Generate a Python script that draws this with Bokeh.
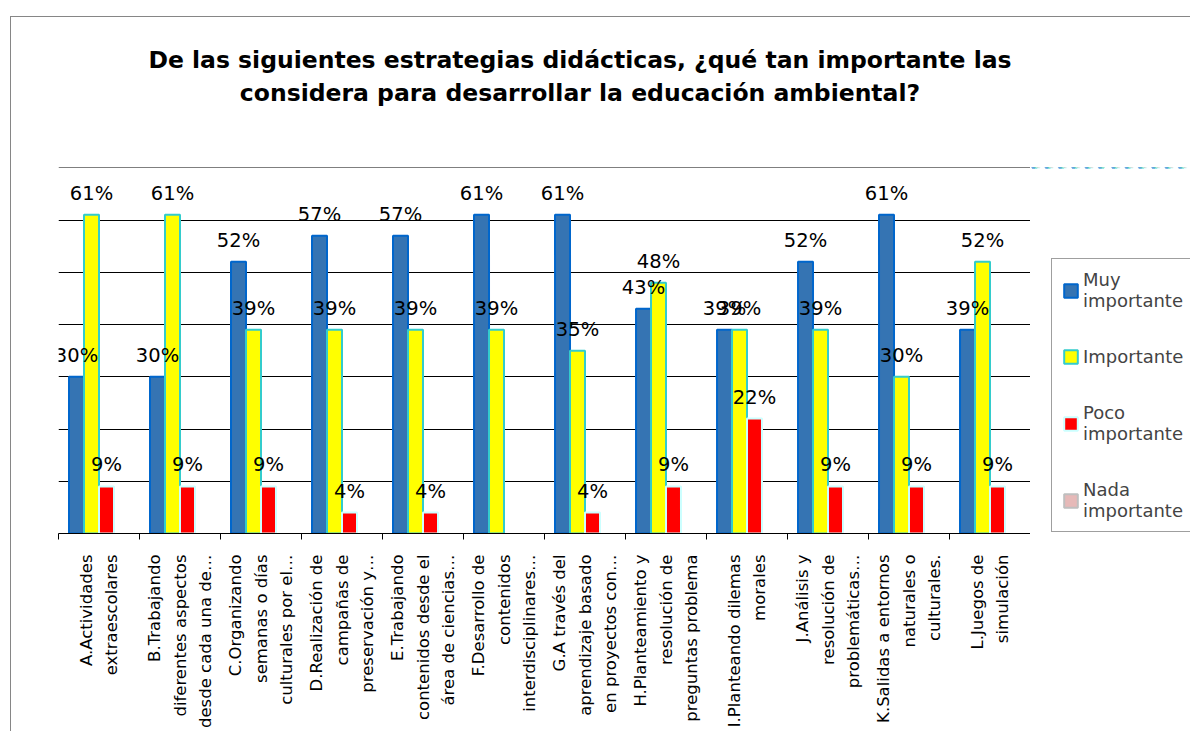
import math
import numpy as np
from bokeh.plotting import figure
from bokeh.layouts import column, row
from bokeh.models import (ColumnDataSource, FactorRange, Range1d, LinearAxis, CategoricalAxis,
                          FixedTicker, LabelSet, Legend, LegendItem, CustomLabelingPolicy, Div)
from bokeh.transform import dodge
from bokeh.core.properties import value
from bokeh.embed import file_html
from bokeh.resources import INLINE

# ---------------- data ----------------
categories = [
    "A.Actividades\nextraescolares",
    "B.Trabajando\ndiferentes aspectos\ndesde cada una de…",
    "C.Organizando\nsemanas o días\nculturales por el…",
    "D.Realización de\ncampañas de\npreservación y…",
    "E.Trabajando\ncontenidos desde el\nárea de ciencias…",
    "F.Desarrollo de\ncontenidos\ninterdisciplinares…",
    "G.A través del\naprendizaje basado\nen proyectos con…",
    "H.Planteamiento y\nresolución de\npreguntas problema",
    "I.Planteando dilemas\nmorales",
    "J.Análisis y\nresolución de\nproblemáticas…",
    "K.Salidas a entornos\nnaturales o\nculturales.",
    "L.Juegos de\nsimulación",
]
muy_importante = [30, 30, 52, 57, 57, 61, 61, 43, 39, 52, 61, 39]
importante = [61, 61, 39, 39, 39, 39, 35, 48, 39, 39, 30, 52]
poco_importante = [9, 9, 9, 4, 4, 0, 4, 9, 22, 9, 9, 9]
nada_importante = [0, 0, 0, 0, 0, 0, 0, 0, 0, 0, 0, 0]

series_names = ["Muy\nimportante", "Importante\n", "Poco\nimportante", "Nada\nimportante"]
title_lines = ["De las siguientes estrategias didácticas, ¿qué tan importante las",
               "considera para desarrollar la educación ambiental?"]

FONT = "DejaVu Sans"
TITLE_H = 110
MAIN_W = 1030
LEG_W = 160
FIG_H = 731 - TITLE_H

# ---------------- title (with the chart-area border line, Excel style) ----------------
title_div = Div(
    text=("<div style=\"position:absolute;left:10px;top:16px;width:1400px;height:900px;"
          "border-left:1px solid #868686;border-top:1px solid #868686;z-index:10;"
          "pointer-events:none;\"></div>"
          "<div style=\"width:1160px;font-family:'DejaVu Sans';font-weight:bold;font-size:23.5px;"
          "line-height:33px;text-align:center;color:black;padding-top:44px;\">"
          + "<br>".join(title_lines) + "</div>"),
    width=1190, height=TITLE_H, margin=0)

# ---------------- main chart ----------------
p = figure(width=MAIN_W, height=FIG_H, output_backend="svg", toolbar_location=None,
           x_range=FactorRange(*categories, range_padding=0), y_range=Range1d(0, 70.05),
           x_axis_location=None, min_border_left=58, min_border_right=0,
           min_border_top=167 - TITLE_H, min_border_bottom=198, margin=0)
p.outline_line_color = None
p.background_fill_color = "white"
p.border_fill_color = "white"
p.yaxis.visible = False
p.xgrid.grid_line_color = None
p.ygrid.ticker = FixedTicker(ticks=[10, 20, 30, 40, 50, 60, 70])
p.ygrid.grid_line_color = "#000000"
p.ygrid.grid_line_width = 1

# separator ticks between categories (Excel style), placed at category boundaries
no_labels = CustomLabelingPolicy(code="for (const i of indices) { indices.unset(i) }")
sep_axis = LinearAxis(ticker=FixedTicker(ticks=list(range(len(categories) + 1))),
                      major_tick_out=6, major_tick_in=0, minor_tick_out=0, minor_tick_in=0,
                      major_label_text_font_size="0px", major_label_standoff=0,
                      major_label_policy=no_labels,
                      axis_line_color="black", major_tick_line_color="black")
p.add_layout(sep_axis, "below")

cat_axis = CategoricalAxis(axis_line_color=None, major_tick_line_color=None, major_tick_out=0,
                           major_tick_in=0, major_label_orientation=math.pi / 2,
                           major_label_standoff=15, major_label_text_font=FONT,
                           major_label_text_font_size="16.5px", major_label_text_color="black",
                           major_label_text_line_height=1.35)
p.add_layout(cat_axis, "below")


def bar_tops(vals):
    a = np.array(vals, dtype=float)
    return np.where(a > 0, a, np.nan)


src = ColumnDataSource(dict(cat=categories, muy=bar_tops(muy_importante), imp=bar_tops(importante),
                            poco=bar_tops(poco_importante), nada=bar_tops(nada_importante)))

bw = 0.185
specs = [
    ("muy", muy_importante, -1.5 * bw, "#3574B3", "#0066CC"),
    ("imp", importante, -0.5 * bw, "#FFFF00", "#33CCCC"),
    ("poco", poco_importante, 0.5 * bw, "#FF0000", "#CCFFFF"),
    ("nada", nada_importante, 1.5 * bw, "#E6B9B8", "#BFBFBF"),
]

for field, vals, off, fill, line in specs:
    p.vbar(x=dodge("cat", off, range=p.x_range), top=field, width=bw, source=src,
           fill_color=fill, line_color=line, line_width=2)
    lab_cats = [c for c, v in zip(categories, vals) if v > 0]
    lab_vals = [v for v in vals if v > 0]
    lsrc = ColumnDataSource(dict(cat=lab_cats, y=lab_vals, t=[f"{v}%" for v in lab_vals]))
    p.add_layout(LabelSet(x=dodge("cat", off, range=p.x_range), y="y", text="t", source=lsrc,
                          text_align="center", text_baseline="alphabetic", y_offset=15,
                          text_font=value(FONT), text_font_size=value("19.5px"),
                          text_color="black"))

# ---------------- legend panel (same series styles; the range keeps bars out of view) ----------------
lp = figure(width=LEG_W, height=FIG_H, output_backend="svg", toolbar_location=None,
            x_range=p.x_range, y_range=Range1d(-2, -1), x_axis_location=None,
            y_axis_location=None, min_border=0, margin=0)
lp.outline_line_color = None
lp.xgrid.visible = False
lp.ygrid.visible = False
leg_renderers = []
for field, vals, off, fill, line in specs:
    leg_renderers.append(lp.vbar(x=dodge("cat", off, range=p.x_range), top=field, width=bw,
                                 source=src, fill_color=fill, line_color=line, line_width=2))

legend = Legend(items=[LegendItem(label=n, renderers=[r]) for n, r in zip(series_names, leg_renderers)],
                location=(21, 1), margin=0, padding=10, spacing=35,
                glyph_width=17, glyph_height=17, label_standoff=4,
                label_text_font=FONT, label_text_font_size="18px",
                label_text_line_height=1.44, border_line_color="#404040",
                border_line_width=1, background_fill_alpha=1)
lp.add_layout(legend)

layout = column(title_div, row(p, lp, spacing=0, margin=0), spacing=0, margin=0)
open("out.html", "w").write(file_html(layout, INLINE))
